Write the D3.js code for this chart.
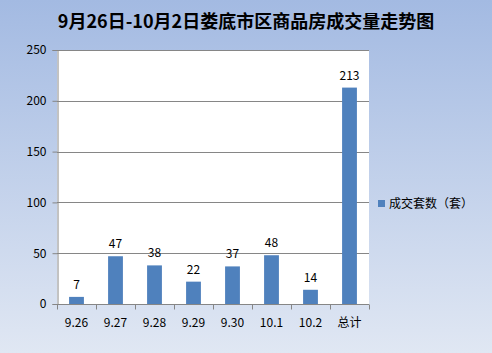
<!DOCTYPE html>
<html>
<head>
<meta charset="utf-8">
<script src="https://cdn.jsdelivr.net/npm/d3@7"></script>
<style>
  body { margin: 0; }
  svg { display: block; }
</style>
</head>
<body>
<svg id="chart"></svg>
<script>
// Data
const categories = ["9.26", "9.27", "9.28", "9.29", "9.30", "10.1", "10.2", "总计"];
const values = [7, 47, 38, 22, 37, 48, 14, 213];
const yTicks = [0, 50, 100, 150, 200, 250];
const seriesName = "成交套数（套）";
const title = "9月26日-10月2日娄底市区商品房成交量走势图";

const width = 492, height = 353;
const plot = { left: 57, top: 50, right: 369, bottom: 304 };
const font = "'Noto Sans CJK SC', 'DejaVu Sans', sans-serif";

const svg = d3.select("#chart")
    .attr("width", width)
    .attr("height", height)
    .style("font-family", font);

// Background gradient
const defs = svg.append("defs");
const grad = defs.append("linearGradient")
    .attr("id", "bg").attr("x1", 0).attr("y1", 0).attr("x2", 0).attr("y2", 1);
grad.append("stop").attr("offset", "0%").attr("stop-color", "#a3bae2");
grad.append("stop").attr("offset", "100%").attr("stop-color", "#e0e7f3");

svg.append("rect")
    .attr("width", width).attr("height", height)
    .attr("fill", "url(#bg)");

// Title
svg.append("text")
    .attr("x", 246).attr("y", 28)
    .attr("text-anchor", "middle")
    .attr("font-size", 18)
    .attr("font-weight", "bold")
    .attr("fill", "#000")
    .text(title);

// Scales
const x = d3.scaleBand()
    .domain(categories)
    .range([plot.left, plot.right])
    .paddingInner(0.62)
    .paddingOuter(0.31);

const xCat = d3.scaleBand()
    .domain(categories)
    .range([plot.left, plot.right]);

const y = d3.scaleLinear()
    .domain([0, 250])
    .range([plot.bottom, plot.top]);

// Plot area
svg.append("rect")
    .attr("x", plot.left).attr("y", plot.top)
    .attr("width", plot.right - plot.left)
    .attr("height", plot.bottom - plot.top)
    .attr("fill", "#fff");

// Gridlines
svg.append("g")
    .selectAll("line")
    .data(yTicks.filter(d => d > 0))
    .join("line")
    .attr("x1", plot.left).attr("x2", plot.right)
    .attr("y1", d => Math.round(y(d)) + 0.5)
    .attr("y2", d => Math.round(y(d)) + 0.5)
    .attr("stroke", "#868686");

// Y axis
const yAxis = svg.append("g")
    .attr("transform", `translate(${plot.left + 0.5},0)`)
    .call(d3.axisLeft(y).tickValues(yTicks).tickSize(5).tickPadding(6));
yAxis.select(".domain").attr("stroke", "#868686");
yAxis.selectAll(".tick line").attr("stroke", "#868686");
yAxis.selectAll("text")
    .attr("font-size", 12)
    .attr("font-family", font)
    .attr("fill", "#000");

// Bars
svg.append("g")
    .selectAll("rect")
    .data(values)
    .join("rect")
    .attr("x", (d, i) => x(categories[i]))
    .attr("y", d => y(d))
    .attr("width", x.bandwidth())
    .attr("height", d => y(0) - y(d))
    .attr("fill", "#4f81bd");

// Value labels
svg.append("g")
    .selectAll("text")
    .data(values)
    .join("text")
    .attr("x", (d, i) => x(categories[i]) + x.bandwidth() / 2)
    .attr("y", d => y(d) - 8)
    .attr("text-anchor", "middle")
    .attr("font-size", 12)
    .attr("fill", "#000")
    .text(d => d);

// X axis with ticks between categories
const xAxisG = svg.append("g")
    .attr("transform", `translate(0,${plot.bottom + 0.5})`);
xAxisG.append("line")
    .attr("x1", plot.left).attr("x2", plot.right)
    .attr("stroke", "#868686");
xAxisG.selectAll(".tk")
    .data(categories.concat([null]))
    .join("line")
    .attr("class", "tk")
    .attr("x1", (d, i) => Math.round(plot.left + i * xCat.bandwidth()) + 0.5)
    .attr("x2", (d, i) => Math.round(plot.left + i * xCat.bandwidth()) + 0.5)
    .attr("y1", 0).attr("y2", 5)
    .attr("stroke", "#868686");
xAxisG.selectAll("text")
    .data(categories)
    .join("text")
    .attr("x", d => xCat(d) + xCat.bandwidth() / 2)
    .attr("y", 22)
    .attr("text-anchor", "middle")
    .attr("font-size", 12)
    .attr("fill", "#000")
    .text(d => d);

// Legend
const legend = svg.append("g").attr("transform", "translate(378,200)");
legend.append("rect")
    .attr("x", 0).attr("y", 0)
    .attr("width", 7).attr("height", 7)
    .attr("fill", "#4f81bd");
legend.append("text")
    .attr("x", 11).attr("y", 8)
    .attr("font-size", 12)
    .attr("fill", "#000")
    .text(seriesName);
</script>
</body>
</html>
